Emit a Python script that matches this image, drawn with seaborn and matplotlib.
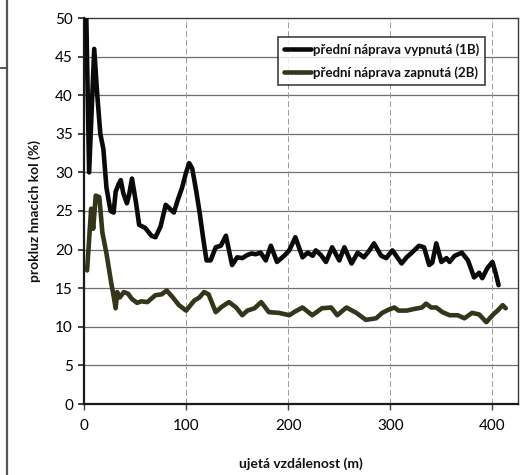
import matplotlib
matplotlib.use("Agg")
import matplotlib.pyplot as plt
from matplotlib.lines import Line2D
import seaborn as sns
import pandas as pd

# ---- data ----
dist_1b = [2, 5, 10, 13, 16, 19, 22, 26, 29, 31, 34, 36, 38.5, 42, 44, 47, 51, 54, 60, 66,
           70, 75, 80, 84, 88, 92, 96, 100, 103, 106, 110, 113, 117, 120, 124, 129, 134, 139,
           145, 150, 155, 160, 164, 168, 173, 178, 183, 189, 196, 201, 207, 214, 219, 224,
           227, 232, 237, 243, 250, 255, 262, 268, 274, 279, 284, 291, 296, 302, 311, 316,
           321, 328, 333, 338, 341, 345, 350, 355, 358, 363, 370, 376, 382, 387, 390, 395,
           400, 403, 406]
slip_1b = [52, 30, 46, 40, 35, 33, 28, 25, 24.8, 27.5, 28.5, 29, 27.3, 26, 27, 29.2, 26, 23.2,
           22.8, 21.8, 21.6, 23, 25.8, 25.3, 24.8, 26.5, 28, 30, 31.2, 30.5, 27.5, 25, 21.2,
           18.6, 18.6, 20.3, 20.5, 21.8, 18, 19, 18.9, 19.3, 19.5, 19.4, 19.6, 18.6, 20.5,
           18.4, 19.2, 19.9, 21.6, 19, 19.6, 19.2, 19.9, 19.3, 18.4, 20.3, 18.6, 20.3, 18.2,
           19.6, 19, 19.8, 20.8, 19.2, 18.9, 19.9, 18.2, 19, 19.6, 20.5, 20.3, 18, 18.3, 20.8,
           18.4, 18.9, 18.4, 19.2, 19.6, 18.6, 16.4, 17, 16.3, 17.6, 18.4, 17, 15.4]

dist_2b = [3, 7, 9, 11.5, 15, 18, 22, 26.5, 29, 31, 32.5, 35, 39, 43, 47, 52, 56, 62, 70, 76,
           81, 87, 93, 100, 108, 113, 117.6, 122, 129, 135, 142, 149, 155, 160, 167, 173.5,
           181, 191, 201, 207, 214, 223.5, 233, 242, 248, 257, 266.7, 276, 286, 292, 298,
           304, 308, 316, 323, 331, 335, 340, 345, 351, 358, 366, 372.5, 380, 387, 394, 400,
           405, 410, 413]
slip_2b = [17.3, 25.3, 22.7, 27, 26.8, 22.2, 19.5, 15.8, 14, 12.4, 14.5, 13.8, 14.5, 14.3,
           13.6, 13.1, 13.3, 13.2, 14.1, 14.2, 14.7, 13.8, 12.8, 12.1, 13.4, 13.8, 14.5, 14.2,
           11.9, 12.6, 13.2, 12.5, 11.5, 12.1, 12.4, 13.2, 11.9, 11.8, 11.5, 12, 12.5, 11.5,
           12.4, 12.5, 11.5, 12.5, 11.8, 10.9, 11.1, 11.8, 12.2, 12.5, 12.1, 12.1, 12.3, 12.5,
           13, 12.5, 12.5, 11.9, 11.5, 11.5, 11.1, 11.8, 11.6, 10.6, 11.5, 12.1, 12.8, 12.4]

label_1b = "přední náprava vypnutá (1B)"
label_2b = "přední náprava zapnutá (2B)"
x_label = "ujetá vzdálenost (m)"
y_label = "prokluz hnacích kol (%)"
x_ticks = [0, 100, 200, 300, 400]
y_ticks = [0, 5, 10, 15, 20, 25, 30, 35, 40, 45, 50]

# ---- style ----
sns.set_style("white")
plt.rcParams["font.family"] = ["Lato", "DejaVu Sans"]

col_1b = "#0a0a0a"
col_2b = "#35351c"

fig = plt.figure(figsize=(5.28, 4.75), dpi=100)
ax = fig.add_axes([84 / 528, 1 - 404 / 475, 434 / 528, 386 / 475])

df1 = pd.DataFrame({"x": dist_1b, "y": slip_1b})
df2 = pd.DataFrame({"x": dist_2b, "y": slip_2b})

sns.lineplot(data=df1, x="x", y="y", ax=ax, color=col_1b, lw=3.3, sort=False,
             solid_joinstyle="round", solid_capstyle="round", zorder=4)
sns.lineplot(data=df2, x="x", y="y", ax=ax, color=col_2b, lw=3.3, sort=False,
             solid_joinstyle="round", solid_capstyle="round", zorder=3)

ax.set_xlim(0, 425)
ax.set_ylim(0, 50)
ax.set_xticks(x_ticks)
ax.set_yticks(y_ticks)

# grid
for yv in y_ticks[1:-1]:
    ax.axhline(yv, color="#6e6e6e", lw=0.9, zorder=1)
for xv in x_ticks[1:]:
    ax.axvline(xv, color="#9a9a9a", lw=0.7, ls=(0, (6, 3)), zorder=1)

for side in ["top", "right"]:
    ax.spines[side].set_color("#3a3a3a")
    ax.spines[side].set_linewidth(1.0)
for side in ["left", "bottom"]:
    ax.spines[side].set_color("#1a1a1a")
    ax.spines[side].set_linewidth(1.6)

ax.tick_params(axis="y", direction="out", length=4, width=1.2, color="#222",
               labelsize=11, pad=4, left=True, labelcolor="#000")
ax.tick_params(axis="x", direction="out", length=4, width=1.0, color="#444",
               labelsize=11, pad=7, bottom=True, labelcolor="#000")

ax.set_xlabel(x_label, fontsize=10, fontweight="bold", labelpad=17, color="#111")
ax.set_ylabel(y_label, fontsize=10, fontweight="bold", labelpad=10, color="#111")

handles = [Line2D([0], [0], color=col_1b, lw=3.3),
           Line2D([0], [0], color=col_2b, lw=3.3)]
leg = ax.legend(handles, [label_1b, label_2b], loc="upper right",
                bbox_to_anchor=(0.925, 0.951), fontsize=9.5, frameon=True,
                fancybox=False, handlelength=2.0, handletextpad=0.2,
                borderpad=0.45, labelspacing=0.8, borderaxespad=0)
leg.get_frame().set_edgecolor("#111")
leg.get_frame().set_linewidth(1.2)
for t in leg.get_texts():
    t.set_fontweight("bold")
    t.set_color("#111")

# scan-page border remnants
fig.add_artist(Line2D([7 / 528, 7 / 528], [0, 1], transform=fig.transFigure,
                      color="#555", lw=1.6))
fig.add_artist(Line2D([0, 7 / 528], [1 - 68 / 475, 1 - 68 / 475], transform=fig.transFigure,
                      color="#555", lw=1.4))

fig.savefig("out.png", dpi=100, facecolor="white")
